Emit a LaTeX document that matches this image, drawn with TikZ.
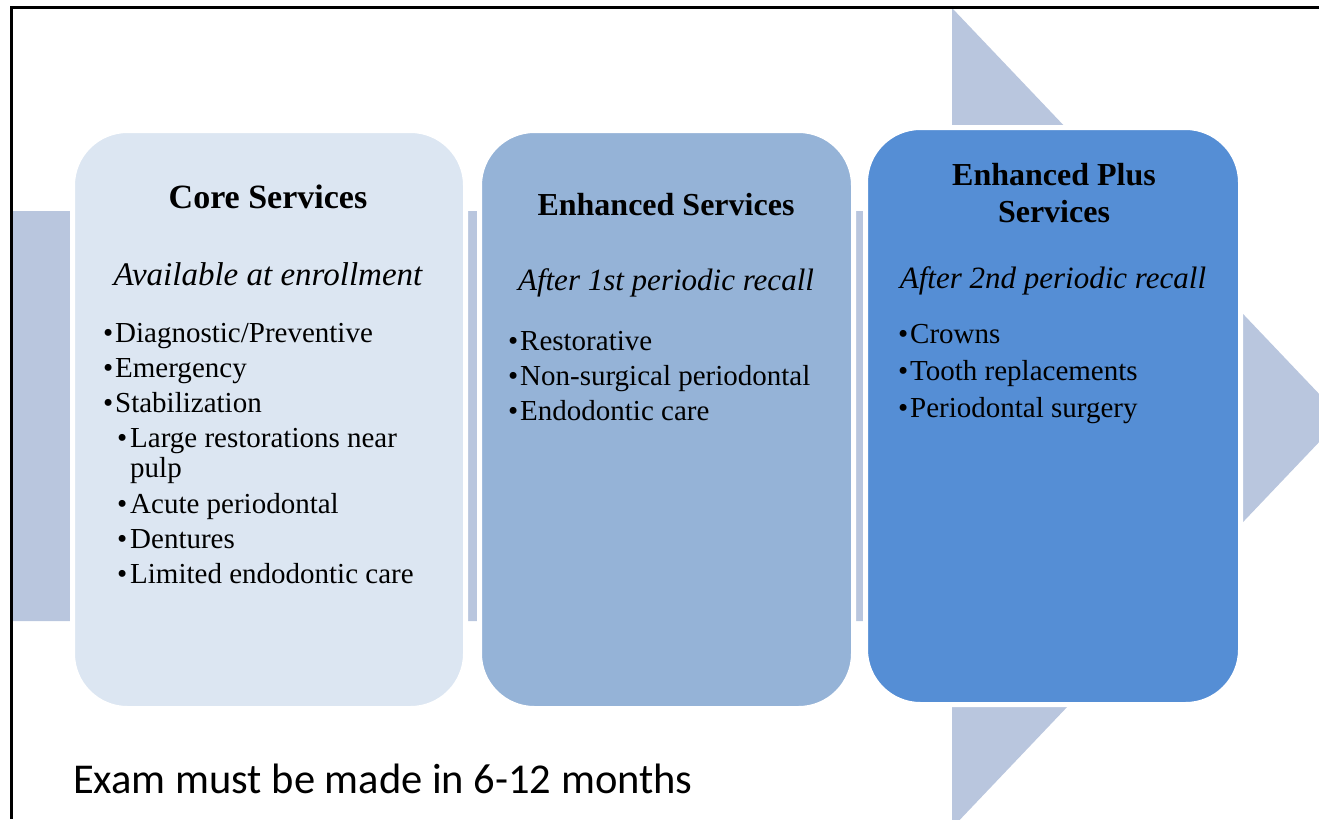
\documentclass[tikz,border=0pt]{standalone}
\usepackage{fontspec}
\setmainfont{Liberation Serif}
\newfontfamily\calib{Carlito}
\definecolor{arrowc}{RGB}{185,198,222}
\definecolor{coreC}{RGB}{220,230,242}
\definecolor{enhC}{RGB}{149,179,215}
\definecolor{plusC}{RGB}{85,142,213}
\begin{document}
\begin{tikzpicture}[x=1pt,y=-1pt,
  box/.style={draw=white, line width=5pt, rounded corners=55pt, inner sep=0pt},
  ttl/.style={font=\fontsize{32}{36}\selectfont\bfseries, anchor=base, inner sep=0pt},
  sub/.style={font=\fontsize{31}{36}\selectfont\itshape, anchor=base, inner sep=0pt},
  itm/.style={font=\fontsize{29}{30}\selectfont, anchor=base west, inner sep=0pt}]
\useasboundingbox (0,0) rectangle (1319,819);
\begin{scope}
\clip (0,0) rectangle (1319,819);
\fill[arrowc] (12,211) -- (952,211) -- (952,8) -- (1342,418) -- (952,828) -- (952,621) -- (12,621) -- cycle;
\end{scope}
% boxes
\node[box, fill=coreC, minimum width=393pt, minimum height=578pt] (core) at (269,419.5) {};
\node[box, fill=enhC, minimum width=374pt, minimum height=578pt] (enh) at (666.5,419.5) {};
\node[box, fill=plusC, minimum width=375pt, minimum height=577pt] (plus) at (1053,416) {};
% frame
\draw[line width=3pt] (1319,7.5) -- (11.5,7.5) -- (11.5,819);
% core
\node[ttl, font=\fontsize{34}{36}\selectfont\bfseries] (coreT) at (268,208) {Core Services};
\node[sub, font=\fontsize{33}{36}\selectfont\itshape] (coreS) at (268,285) {Available at enrollment};
\node[itm] (c1) at (103,342) {\makebox[12pt][l]{•}Diagnostic/Preventive};
\node[itm] (c2) at (103,377) {\makebox[12pt][l]{•}Emergency};
\node[itm] (c3) at (103,412) {\makebox[12pt][l]{•}Stabilization};
\node[itm] (c4) at (117,447) {\makebox[13pt][l]{•}Large restorations near};
\node[itm] (c4b) at (130,477) {pulp};
\node[itm] (c5) at (117,513) {\makebox[13pt][l]{•}Acute periodontal};
\node[itm] (c6) at (117,548) {\makebox[13pt][l]{•}Dentures};
\node[itm] (c7) at (117,583) {\makebox[13pt][l]{•}Limited endodontic care};
% enhanced
\node[ttl] (enhT) at (666,215) {Enhanced Services};
\node[sub] (enhS) at (666,290) {After 1st periodic recall};
\node[itm] (e1) at (508,350) {\makebox[12pt][l]{•}Restorative};
\node[itm] (e2) at (508,385) {\makebox[12pt][l]{•}Non-surgical periodontal};
\node[itm] (e3) at (508,420) {\makebox[12pt][l]{•}Endodontic care};
% enhanced plus
\node[ttl] (plusT1) at (1054,185) {Enhanced Plus};
\node[ttl] (plusT2) at (1054,222) {Services};
\node[sub] (plusS) at (1053,288) {After 2nd periodic recall};
\node[itm] (p1) at (898,343) {\makebox[12pt][l]{•}Crowns};
\node[itm] (p2) at (898,380) {\makebox[12pt][l]{•}Tooth replacements};
\node[itm] (p3) at (898,417) {\makebox[12pt][l]{•}Periodontal surgery};
% footer
\node[font=\calib\fontsize{42.5}{46}\selectfont, anchor=base west, inner sep=0pt] (exam) at (73,793) {Exam must be made in 6-12 months};
\end{tikzpicture}
\end{document}
